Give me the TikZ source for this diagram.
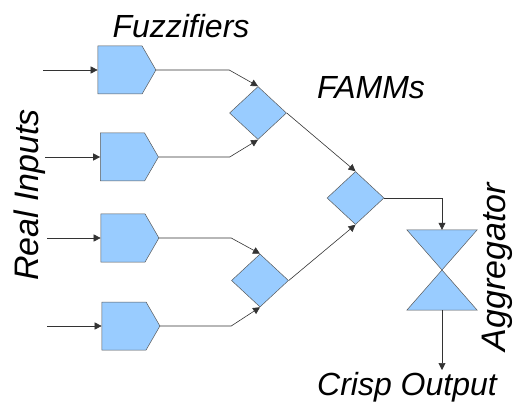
\documentclass[tikz,border=0pt]{standalone}
\usepackage{fontspec}
\setmainfont{Liberation Sans}
\usepackage{tikz}
\usetikzlibrary{shapes.geometric}
\usetikzlibrary{shapes.symbols}
\usetikzlibrary{arrows.meta}
\definecolor{famblue}{HTML}{99CCFF}
\tikzstyle{block}=[draw=black!65, fill=famblue, inner sep=0pt, line width=0.5pt]
\tikzstyle{fuzz}=[block, signal, signal to=east, signal pointer angle=120, minimum width=58pt, minimum height=48pt]
\tikzstyle{famm}=[block, diamond, minimum width=57pt, minimum height=53pt]
\tikzstyle{wire}=[draw=black!80, line width=0.6pt]
\tikzstyle{arr}=[wire, -{Triangle[length=7pt, width=7pt]}]
\tikzstyle{lbl}=[font=\fontsize{32}{38}\selectfont\itshape, inner sep=0pt, anchor=base]
\tikzstyle{vlbl}=[lbl, font=\fontsize{34}{40}\selectfont\itshape, rotate=90]

\begin{document}
\begin{tikzpicture}[x=1pt, y=-1pt]
        \useasboundingbox (0,0) rectangle (514,406);
        % fuzzifiers
        \coordinate (in1) at (43, 70);
        \coordinate (in2) at (45, 157);
        \coordinate (in3) at (47, 238);
        \coordinate (in4) at (47, 326);
        \node[fuzz] (F1) at (120, 70) {};
        \node[fuzz] (F2) at (122.5, 157) {};
        \node[fuzz] (F3) at (123, 238) {};
        \node[fuzz] (F4) at (124, 326) {};
        \draw[arr] (in1) -- (F1.west);
        \draw[arr] (in2) -- (F2.west);
        \draw[arr] (in3) -- (F3.west);
        \draw[arr] (in4) -- (F4.west);
        % FAMMs
        \node[famm] (M1) at (258, 113) {};
        \node[famm] (M2) at (260, 280.5) {};
        \node[famm] (M3) at (355.5, 198) {};
        \draw[arr] (F1.east) -- ++(73, 0) -- (M1.north);
        \draw[arr] (F2.east) -- ++(71, 0) -- (M1.south);
        \draw[arr] (F3.east) -- ++(72, 0) -- (M2.north);
        \draw[arr] (F4.east) -- ++(71, 0) -- (M2.south);
        \draw[arr] (M1.east) -- (M3.north);
        \draw[arr] (M2.east) -- (M3.south);
        % aggregator
        \node[inner sep=0pt, minimum width=70pt, minimum height=80pt] (agg) at (442, 270) {};
        \filldraw[block] (agg.north west) -- (agg.north east) -- (agg.south west) -- (agg.south east) -- cycle;
        \coordinate (out) at (442, 370);
        \draw[arr] (M3.east) -| (agg.north);
        \draw[arr] (agg.south) -- (out);
        % labels
        \node[lbl] (tfuzz) at (181, 38) {Fuzzifiers};
        \node[lbl] (tfamm) at (371, 99) {FAMMs};
        \node[vlbl] (tin) at (38, 195) {Real Inputs};
        \node[vlbl] (tagg) at (505, 267) {Aggregator};
        \node[lbl] (tout) at (407, 395) {Crisp Output};
    \end{tikzpicture}
\end{document}
